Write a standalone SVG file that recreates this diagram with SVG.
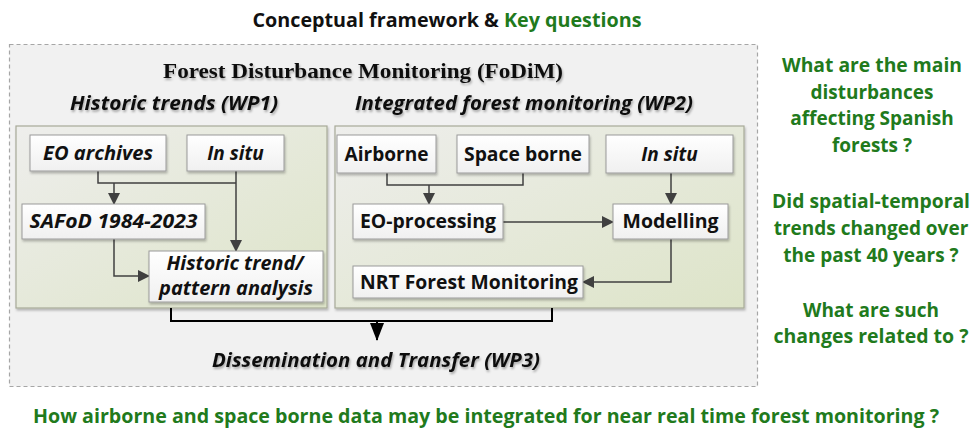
<svg xmlns="http://www.w3.org/2000/svg" width="972" height="431" viewBox="0 0 972 431">
<defs>
<linearGradient id="panelG" x1="0" y1="0" x2="1" y2="1">
<stop offset="0" stop-color="#eeeeec"/>
<stop offset="1" stop-color="#dde4c8"/>
</linearGradient>
<linearGradient id="boxG" x1="0" y1="0" x2="0" y2="1">
<stop offset="0" stop-color="#ffffff"/>
<stop offset="1" stop-color="#f0f0f0"/>
</linearGradient>
<filter id="sh" x="-10%" y="-10%" width="130%" height="140%">
<feDropShadow dx="1" dy="2" stdDeviation="1.2" flood-color="#000" flood-opacity="0.25"/>
</filter>
<filter id="tsh" x="-5%" y="-20%" width="110%" height="160%">
<feDropShadow dx="1" dy="2" stdDeviation="1" flood-color="#000" flood-opacity="0.3"/>
</filter>
<marker id="ah" viewBox="0 0 12 12" refX="11" refY="6" markerWidth="12" markerHeight="12" markerUnits="userSpaceOnUse" orient="auto">
<path d="M0,0 L12,6 L0,12 z" fill="#404040"/>
</marker>
<marker id="ahb" viewBox="0 0 18 14" refX="17" refY="7" markerWidth="18" markerHeight="14" markerUnits="userSpaceOnUse" orient="auto">
<path d="M0,0 L18,7 L0,14 z" fill="#000"/>
</marker>
</defs>
<style>
.q{font-family:"Open Sans","Liberation Sans",sans-serif;font-weight:bold;fill:#217a1c;text-anchor:middle;font-size:19px}
.t{font-family:"Open Sans","Liberation Sans",sans-serif;font-weight:bold;fill:#111;text-anchor:middle;font-size:19px}
.i{font-style:italic}
.h{font-family:"Open Sans","Liberation Sans",sans-serif;font-weight:bold;font-style:italic;fill:#111;font-size:19px}
.box{fill:url(#boxG);stroke:#9a9a9a;stroke-width:1;filter:url(#sh)}
.panel{fill:url(#panelG);stroke:#a7aa98;stroke-width:1.2;filter:url(#sh)}
.c{fill:none;stroke:#404040;stroke-width:1.5}
.b{fill:none;stroke:#000;stroke-width:2}
</style>
<rect width="972" height="431" fill="#ffffff"/>

<g id="header">
<text x="447" y="27" font-family="'Open Sans','Liberation Sans',sans-serif" font-weight="bold" font-size="19" textLength="389" lengthAdjust="spacingAndGlyphs" text-anchor="middle"><tspan fill="#111">Conceptual framework &amp; </tspan><tspan fill="#217a1c">Key questions</tspan></text>
</g>

<g id="frame">
<rect x="9.5" y="44.5" width="748" height="342" fill="#f1f1f1" stroke="#a6a6a6" stroke-width="1.2" stroke-dasharray="4,3"/>
<text x="363" y="78" font-family="'Liberation Serif',serif" font-weight="bold" font-size="21" text-anchor="middle" fill="#111" textLength="400" lengthAdjust="spacingAndGlyphs" filter="url(#tsh)">Forest Disturbance Monitoring (FoDiM)</text>
</g>

<g id="wp1">
<text x="70" y="110" class="h" textLength="208" lengthAdjust="spacingAndGlyphs" filter="url(#tsh)">Historic trends (WP1)</text>
<rect class="panel" x="16" y="126" width="311" height="182"/>
</g>
<g id="wp2">
<text x="355" y="110" class="h" textLength="338" lengthAdjust="spacingAndGlyphs" filter="url(#tsh)">Integrated forest monitoring (WP2)</text>
<rect class="panel" x="335" y="126" width="409" height="182"/>
</g>

<g id="connectors">
<path class="c" d="M98,171 V183 H236"/>
<path class="c" d="M114,183 V204" marker-end="url(#ah)"/>
<path class="c" d="M236,171 V251" marker-end="url(#ah)"/>
<path class="c" d="M114,239 V276 H149" marker-end="url(#ah)"/>
<path class="c" d="M387,173 V185 H523 V173"/>
<path class="c" d="M429,185 V204" marker-end="url(#ah)"/>
<path class="c" d="M671,173 V204" marker-end="url(#ah)"/>
<path class="c" d="M503,222 H613" marker-end="url(#ah)"/>
<path class="c" d="M671,239 V282 H583" marker-end="url(#ah)"/>
<path class="b" d="M171,308 V321 H552 V308"/>
<path class="b" d="M377,321 V340" marker-end="url(#ahb)"/>
</g>

<g id="eo-archives"><rect class="box" x="30" y="135" width="136" height="36"/><text class="t i" x="98" y="160" textLength="110" lengthAdjust="spacingAndGlyphs">EO archives</text></g>
<g id="insitu1"><rect class="box" x="187" y="135" width="97" height="36"/><text class="t i" x="235.5" y="160">In situ</text></g>
<g id="safod"><rect class="box" x="22" y="204" width="183" height="35"/><text class="t i" x="113.5" y="228" textLength="168" lengthAdjust="spacingAndGlyphs">SAFoD 1984-2023</text></g>
<g id="historic"><rect class="box" x="149" y="251" width="174" height="51"/><text class="t i" x="235" y="270" textLength="137" lengthAdjust="spacingAndGlyphs">Historic trend/</text><text class="t i" x="236" y="295" textLength="154" lengthAdjust="spacingAndGlyphs">pattern analysis</text></g>

<g id="airborne"><rect class="box" x="337" y="135" width="99" height="38"/><text class="t" x="386.5" y="161" textLength="84" lengthAdjust="spacingAndGlyphs">Airborne</text></g>
<g id="spaceborne"><rect class="box" x="457" y="135" width="132" height="38"/><text class="t" x="523" y="161" textLength="118" lengthAdjust="spacingAndGlyphs">Space borne</text></g>
<g id="insitu2"><rect class="box" x="606" y="135" width="127" height="38"/><text class="t i" x="669.5" y="161">In situ</text></g>
<g id="eo-processing"><rect class="box" x="353" y="204" width="150" height="35"/><text class="t" x="428" y="228" textLength="136" lengthAdjust="spacingAndGlyphs">EO-processing</text></g>
<g id="modelling"><rect class="box" x="613" y="204" width="115" height="35"/><text class="t" x="670.5" y="228" textLength="96" lengthAdjust="spacingAndGlyphs">Modelling</text></g>
<g id="nrt"><rect class="box" x="353" y="266" width="230" height="32"/><text class="t" x="469" y="289" textLength="218" lengthAdjust="spacingAndGlyphs">NRT Forest Monitoring</text></g>

<g id="wp3">
<text x="376" y="367" class="h" text-anchor="middle" textLength="328" lengthAdjust="spacingAndGlyphs" filter="url(#tsh)">Dissemination and Transfer (WP3)</text>
</g>

<g id="questions">
<text class="q" x="872" y="72" textLength="180" lengthAdjust="spacingAndGlyphs">What are the main</text>
<text class="q" x="872" y="99">disturbances</text>
<text class="q" x="872" y="125">affecting Spanish</text>
<text class="q" x="872" y="152">forests ?</text>
<text class="q" x="871" y="208" textLength="198" lengthAdjust="spacingAndGlyphs">Did spatial-temporal</text>
<text class="q" x="871" y="235">trends changed over</text>
<text class="q" x="871" y="262">the past 40 years ?</text>
<text class="q" x="871" y="317">What are such</text>
<text class="q" x="871" y="343" textLength="195" lengthAdjust="spacingAndGlyphs">changes related to ?</text>
<text class="q" x="486" y="423" textLength="906" lengthAdjust="spacingAndGlyphs">How airborne and space borne data may be integrated for near real time forest  monitoring ?</text>
</g>
</svg>
